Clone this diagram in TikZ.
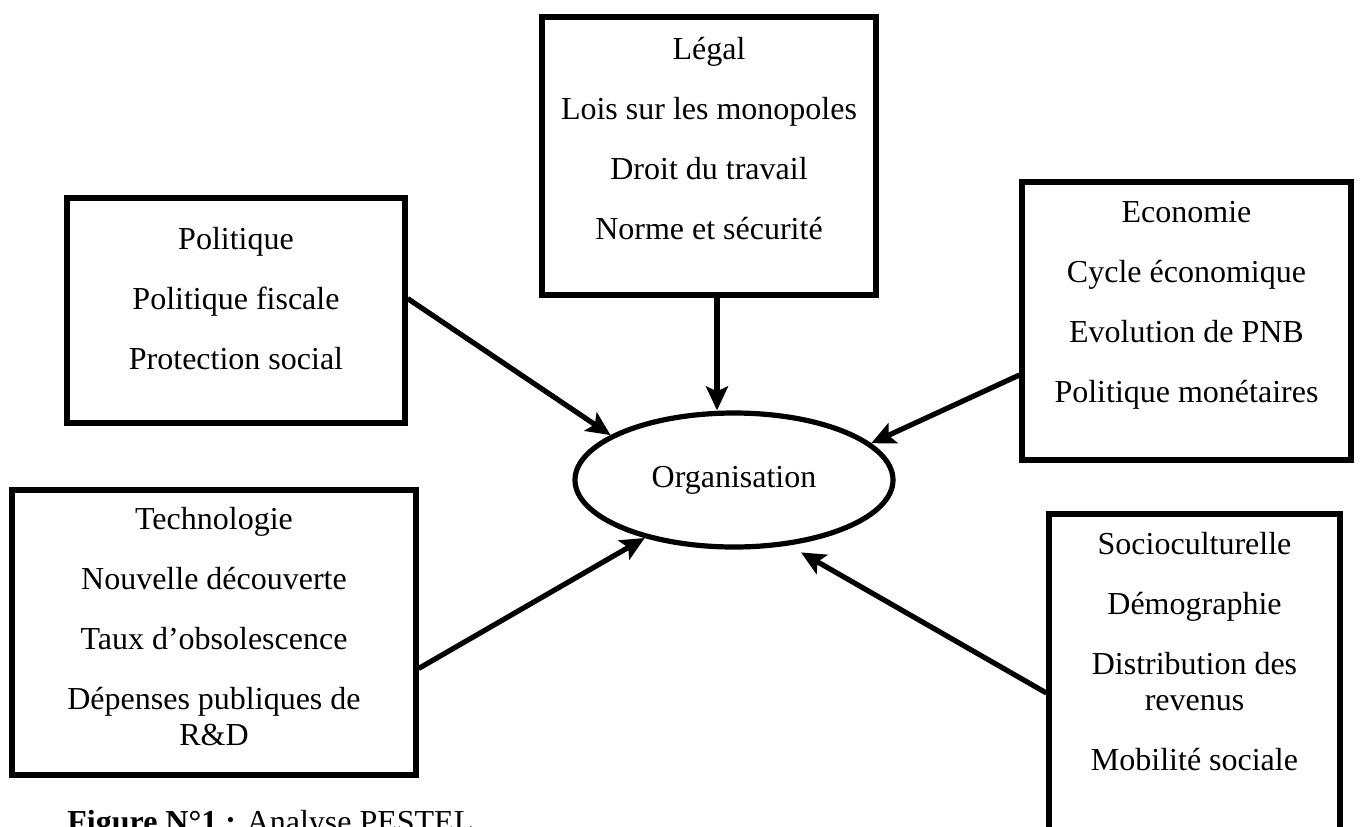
\documentclass[tikz,border=0pt]{standalone}
\usepackage{fontspec}
\setmainfont{Liberation Serif}
\usepackage{tikz}
\usetikzlibrary{shapes.geometric, arrows.meta, positioning}
\tikzstyle{factor} = [rectangle, draw=black, line width=2.6pt]
\tikzstyle{factortext} = [align=center, inner sep=0pt, font=\fontsize{16}{18}\selectfont]
\tikzstyle{hub} = [ellipse, draw=black, line width=2.6pt, minimum width=159pt, minimum height=67pt, font=\fontsize{16}{18}\selectfont]
\tikzstyle{arrow} = [line width=2.6pt, -{Stealth[length=12pt, width=11pt, inset=2.5pt]}]

\begin{document}
\begin{tikzpicture}[x=0.5pt, y=-0.5pt]
			\useasboundingbox (0,0) rectangle (1360,826);
			\clip (0,0) rectangle (1360,826);
			\node(orga)[hub] at (734,480) {Organisation};
			\node(legal)[factor, minimum width=167pt, minimum height=139pt] at (709,156) {};
			\node(politique)[factor, minimum width=169pt, minimum height=112.5pt] at (236,310.5) {};
			\node(economie)[factor, minimum width=164.5pt, minimum height=139pt] at (1186.5,321) {};
			\node(techno)[factor, minimum width=202pt, minimum height=142.5pt] at (214,632.5) {};
			\node(socio)[factor, minimum width=145.5pt, minimum height=183pt] at (1194.5,697) {};

			\node(legaltxt)[factortext, below=11pt of legal.north] {L\'egal\\[12pt]Lois sur les monopoles\\[12pt]Droit du travail\\[12pt]Norme et s\'ecurit\'e};
			\node(politiquetxt)[factortext, below=15.5pt of politique.north] {Politique\\[12pt]Politique fiscale\\[12pt]Protection social};
			\node(economietxt)[factortext, below=11pt of economie.north] {Economie\\[12pt]Cycle \'economique\\[12pt]Evolution de PNB\\[12pt]Politique mon\'etaires};
			\node(technotxt)[factortext, below=9.5pt of techno.north] {Technologie\\[12pt]Nouvelle d\'ecouverte\\[12pt]Taux d'obsolescence\\[12pt]D\'epenses publiques de\\R\&D};
			\node(sociotxt)[factortext, below=10pt of socio.north] {Socioculturelle\\[12pt]D\'emographie\\[12pt]Distribution des\\revenus\\[12pt]Mobilit\'e sociale};

			\draw [arrow] ([yshift=6pt]politique.east) -- (orga.160);
			\draw [arrow] ([xshift=4pt]legal.south) -- ([xshift=4pt]legal.south |- orga.north);
			\draw [arrow] ([yshift=-27pt]economie.west) -- (orga.15);
			\draw [arrow] ([yshift=-18pt]techno.east) -- (orga.213);
			\draw [arrow, shorten >=7pt] ([yshift=2pt]socio.west) -- (orga.310);
			% Caption
			\node(caption)[anchor=base west, inner sep=0pt, font=\fontsize{16}{18}\selectfont] at (67,832) {\textbf{Figure N°1 :} Analyse PESTEL};
		\end{tikzpicture}
\end{document}
